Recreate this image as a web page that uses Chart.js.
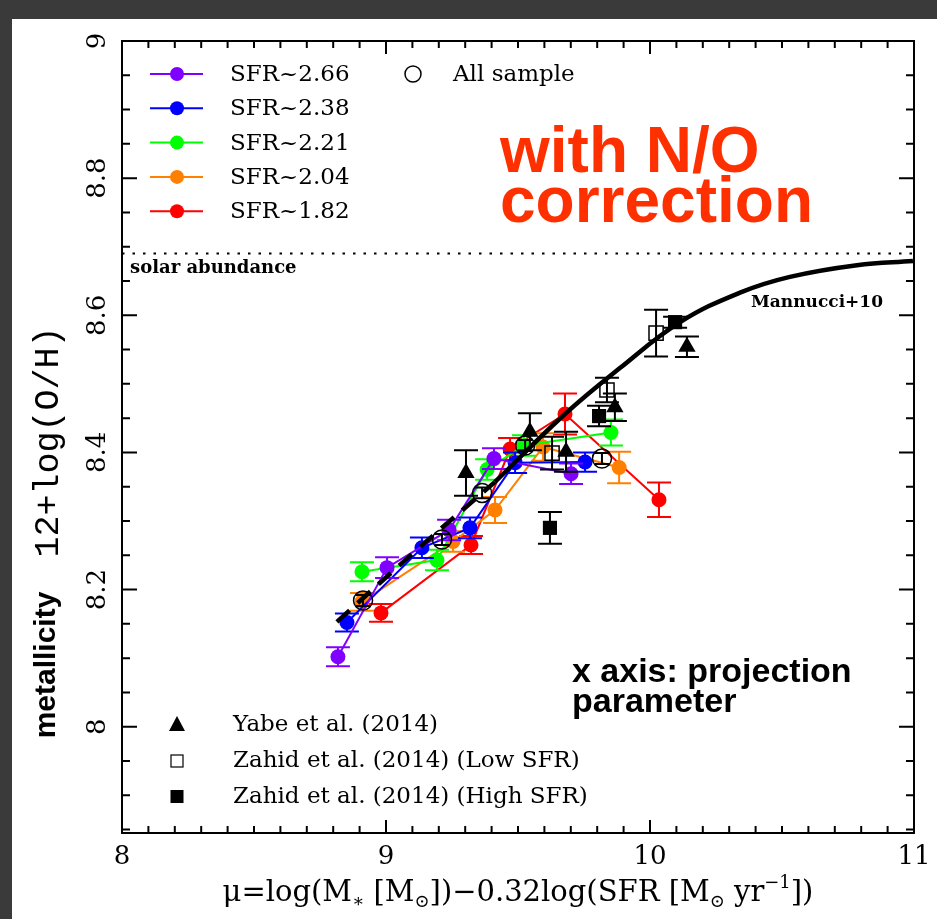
<!DOCTYPE html>
<html>
<head>
<meta charset="utf-8">
<script src="https://cdn.jsdelivr.net/npm/chart.js@4"></script>
<style>
  html, body { margin: 0; padding: 0; background: #3a3a3a; overflow: hidden; }
  #paper { position: absolute; left: 12px; top: 19px; width: 925px; height: 900px; background: #fff; }
  #metal { position: absolute; left: 0; top: 0; }
</style>
</head>
<body>
<div id="paper"></div>
<canvas id="metal" width="937" height="919"></canvas>
<script>
const xTickLabels = ['8', '9', '10', '11'];
const yTickLabels = ['8', '8.2', '8.4', '8.6', '8.8', '9'];

const sfrLabels = ['SFR~2.66', 'SFR~2.38', 'SFR~2.21', 'SFR~2.04', 'SFR~1.82'];
const sfrColors = ['#8000ff', '#0000ff', '#00ff00', '#ff8000', '#ff0000'];

const muSfr266 = [8.818, 9.004, 9.239, 9.409, 9.701];
const ohSfr266 = [8.102, 8.232, 8.287, 8.391, 8.369];
const errSfr266 = [0.014, 0.015, 0.015, 0.015, 0.015];

const muSfr238 = [8.852, 9.136, 9.318, 9.489, 9.754];
const ohSfr238 = [8.152, 8.261, 8.290, 8.385, 8.386];
const errSfr238 = [0.013, 0.015, 0.015, 0.015, 0.014];

const muSfr221 = [8.909, 9.193, 9.383, 9.523, 9.852];
const ohSfr221 = [8.226, 8.243, 8.375, 8.410, 8.429];
const errSfr221 = [0.014, 0.015, 0.015, 0.015, 0.019];

const muSfr204 = [8.909, 9.254, 9.413, 9.595, 9.883];
const ohSfr204 = [8.182, 8.270, 8.316, 8.408, 8.378];
const errSfr204 = [0.013, 0.015, 0.019, 0.020, 0.023];

const muSfr182 = [8.981, 9.322, 9.470, 9.678, 10.034];
const ohSfr182 = [8.166, 8.265, 8.405, 8.456, 8.331];
const errSfr182 = [0.013, 0.013, 0.016, 0.030, 0.025];

const muAll = [8.913, 9.212, 9.364, 9.527, 9.818];
const ohAll = [8.184, 8.273, 8.341, 8.410, 8.391];
const errAll = [0.008, 0.008, 0.008, 0.008, 0.008];

const muYabe = [9.303, 9.545, 9.682, 9.867, 10.140];
const ohYabe = [8.370, 8.430, 8.401, 8.466, 8.554];
const errYabe = [0.033, 0.027, 0.029, 0.020, 0.015];

const muZahidLow = [9.629, 9.837, 10.023];
const ohZahidLow = [8.399, 8.491, 8.574];
const errZahidLow = [0.024, 0.018, 0.034];

const muZahidHigh = [9.621, 9.807, 10.095];
const ohZahidHigh = [8.290, 8.453, 8.590];
const errZahidHigh = [0.023, 0.015, 0.008];

// Mannucci+10 curve: dashed part, then solid part
const muMannucciDash = [8.814, 9.114, 9.413];
const ohMannucciDash = [8.153, 8.257, 8.357];
const muMannucci = [9.413, 9.678, 9.886, 10.114, 10.341, 10.530, 10.784, 10.996];
const ohMannucci = [8.357, 8.456, 8.523, 8.590, 8.633, 8.656, 8.673, 8.679];

const solarOH = 8.69;

const pts = (xs, ys) => xs.map((x, i) => ({ x, y: ys[i] }));

const sfrSeries = [
  [muSfr266, ohSfr266, errSfr266],
  [muSfr238, ohSfr238, errSfr238],
  [muSfr221, ohSfr221, errSfr221],
  [muSfr204, ohSfr204, errSfr204],
  [muSfr182, ohSfr182, errSfr182],
];

const serif = '"DejaVu Serif", serif';
const sans = '"Liberation Sans", Arial, sans-serif';

const errorBars = {
  id: 'errorBars',
  beforeDatasetDraw(chart, args) {
    const ds = chart.data.datasets[args.index];
    if (!ds.errors) return;
    const { ctx, scales: { x, y } } = chart;
    ctx.save();
    ctx.strokeStyle = ds.errColor;
    ctx.lineWidth = 2;
    ds.data.forEach((p, i) => {
      const px = x.getPixelForValue(p.x);
      const top = y.getPixelForValue(p.y + ds.errors[i]);
      const bot = y.getPixelForValue(p.y - ds.errors[i]);
      ctx.beginPath();
      ctx.moveTo(px, top); ctx.lineTo(px, bot);
      ctx.moveTo(px - ds.cap, top); ctx.lineTo(px + ds.cap, top);
      ctx.moveTo(px - ds.cap, bot); ctx.lineTo(px + ds.cap, bot);
      ctx.stroke();
    });
    ctx.restore();
  },
};

const frame = {
  id: 'frame',
  beforeDatasetsDraw(chart) {
    const { ctx, chartArea: a, scales: { y } } = chart;
    const sy = y.getPixelForValue(solarOH);
    ctx.save();
    ctx.strokeStyle = '#000';
    ctx.lineWidth = 2;
    ctx.setLineDash([2.5, 8]);
    ctx.beginPath();
    ctx.moveTo(a.left, sy); ctx.lineTo(a.right, sy);
    ctx.stroke();
    ctx.restore();
  },
  afterDraw(chart) {
    const { ctx, chartArea: a, scales: { x, y } } = chart;
    ctx.save();
    ctx.strokeStyle = '#000';
    ctx.lineWidth = 2;
    ctx.strokeRect(a.left, a.top, a.right - a.left, a.bottom - a.top);

    // ticks on all four sides
    ctx.beginPath();
    for (let k = 0; k <= 30; k++) {
      const px = x.getPixelForValue(8 + k * 0.1);
      const len = k % 10 === 0 ? 13 : 7;
      ctx.moveTo(px, a.bottom); ctx.lineTo(px, a.bottom - len);
      ctx.moveTo(px, a.top); ctx.lineTo(px, a.top + len);
    }
    for (let k = 0; k <= 23; k++) {
      const v = 7.85 + k * 0.05;
      const py = y.getPixelForValue(v);
      const major = Math.abs(v * 5 - Math.round(v * 5)) < 1e-6;
      const len = major ? 15 : 8;
      ctx.moveTo(a.left, py); ctx.lineTo(a.left + len, py);
      ctx.moveTo(a.right, py); ctx.lineTo(a.right - len, py);
    }
    ctx.stroke();

    // tick labels
    ctx.fillStyle = '#000';
    ctx.font = '26px ' + serif;
    ctx.textAlign = 'center';
    ctx.textBaseline = 'top';
    xTickLabels.forEach(t => ctx.fillText(t, x.getPixelForValue(+t), a.bottom + 11));
    ctx.textBaseline = 'middle';
    yTickLabels.forEach(t => {
      ctx.save();
      ctx.translate(a.left - 24, y.getPixelForValue(+t));
      ctx.rotate(-Math.PI / 2);
      ctx.fillText(t, 0, 0);
      ctx.restore();
    });

    // x axis title with sub/superscripts
    const parts = [
      ['μ=log(M', 0], ['∗', 1], [' [M', 0], ['⊙', 1], ['])−0.32log(SFR [M', 0],
      ['⊙', 1], [' yr', 0], ['−1', -1], ['])', 0],
    ];
    const base = 29, small = 18;
    let total = 0;
    parts.forEach(([t, s]) => {
      ctx.font = (s ? small : base) + 'px ' + serif;
      total += ctx.measureText(t).width;
    });
    let cx = (a.left + a.right) / 2 - total / 2;
    ctx.textAlign = 'left';
    ctx.textBaseline = 'alphabetic';
    parts.forEach(([t, s]) => {
      ctx.font = (s ? small : base) + 'px ' + serif;
      ctx.fillText(t, cx, 901 + (s === 1 ? 6 : s === -1 ? -13 : 0));
      cx += ctx.measureText(t).width;
    });

    // y axis title
    ctx.save();
    ctx.translate(47, 665);
    ctx.rotate(-Math.PI / 2);
    ctx.textAlign = 'center';
    ctx.textBaseline = 'middle';
    ctx.font = 'bold 30px ' + sans;
    ctx.fillText('metallicity', 0, 0);
    ctx.restore();
    ctx.save();
    ctx.translate(49, 442);
    ctx.rotate(-Math.PI / 2);
    ctx.textAlign = 'center';
    ctx.textBaseline = 'middle';
    ctx.font = '35px "Liberation Mono", monospace';
    ctx.fillText('12+log(O/H)', 0, 0);
    ctx.restore();

    // SFR legend
    ctx.textAlign = 'left';
    ctx.textBaseline = 'middle';
    ctx.font = '23px ' + serif;
    sfrLabels.forEach((lab, i) => {
      const ly = 74 + i * 34.3;
      ctx.strokeStyle = sfrColors[i];
      ctx.fillStyle = sfrColors[i];
      ctx.lineWidth = 2;
      ctx.beginPath(); ctx.moveTo(150, ly); ctx.lineTo(203, ly); ctx.stroke();
      ctx.beginPath(); ctx.arc(177, ly, 7, 0, Math.PI * 2); ctx.fill();
      ctx.fillStyle = '#000';
      ctx.fillText(lab, 230, ly + 1);
    });
    ctx.strokeStyle = '#000';
    ctx.lineWidth = 1.5;
    ctx.beginPath(); ctx.arc(413, 74, 8, 0, Math.PI * 2); ctx.stroke();
    ctx.fillText('All sample', 453, 75);

    // literature legend
    const lx = 177;
    ctx.fillStyle = '#000';
    ctx.beginPath();
    ctx.moveTo(lx, 716); ctx.lineTo(lx + 8, 731); ctx.lineTo(lx - 8, 731); ctx.closePath();
    ctx.fill();
    ctx.lineWidth = 1.2;
    ctx.strokeRect(lx - 6, 755, 12, 12);
    ctx.fillRect(lx - 6.5, 790, 13, 13);
    ctx.fillText('Yabe et al. (2014)', 233, 725);
    ctx.fillText('Zahid et al. (2014) (Low SFR)', 233, 761);
    ctx.fillText('Zahid et al. (2014) (High SFR)', 233, 797);

    // annotations
    ctx.font = 'bold 18px ' + serif;
    ctx.fillText('solar abundance', 130, 268);
    ctx.textAlign = 'center';
    ctx.font = 'bold 17px ' + serif;
    ctx.fillText('Mannucci+10', 817, 303);

    ctx.textAlign = 'left';
    ctx.textBaseline = 'alphabetic';
    ctx.fillStyle = '#ff3000';
    ctx.font = 'bold 64px ' + sans;
    ctx.fillText('with N/O', 500, 172);
    ctx.fillText('correction', 500, 222);
    ctx.fillStyle = '#000';
    ctx.font = 'bold 34px ' + sans;
    ctx.fillText('x axis: projection', 572, 682);
    ctx.fillText('parameter', 572, 712);
    ctx.restore();
  },
};

const datasets = [
  {
    label: 'Mannucci+10',
    data: pts(muMannucci, ohMannucci),
    showLine: true, borderColor: '#000', borderWidth: 4.5,
    pointRadius: 0, tension: 0.4,
  },
  {
    label: 'Mannucci+10 (extrapolated)',
    data: pts(muMannucciDash, ohMannucciDash),
    showLine: true, borderColor: '#000', borderWidth: 4.5, borderDash: [17, 11],
    pointRadius: 0, tension: 0.4,
  },
  {
    label: 'All sample',
    data: pts(muAll, ohAll), errors: errAll, errColor: '#000', cap: 7,
    pointStyle: 'circle', pointRadius: 9.5, pointBorderWidth: 1.5,
    pointBorderColor: '#000', pointBackgroundColor: 'rgba(0,0,0,0)',
  },
  {
    label: 'Yabe et al. (2014)',
    data: pts(muYabe, ohYabe), errors: errYabe, errColor: '#000', cap: 12,
    pointStyle: 'triangle', pointRadius: 10, pointBorderWidth: 0,
    pointBackgroundColor: '#000',
  },
  {
    label: 'Zahid et al. (2014) (Low SFR)',
    data: pts(muZahidLow, ohZahidLow), errors: errZahidLow, errColor: '#000', cap: 12,
    pointStyle: 'rect', pointRadius: 10, pointBorderWidth: 1.5,
    pointBorderColor: '#000', pointBackgroundColor: 'rgba(255,255,255,0)',
  },
  {
    label: 'Zahid et al. (2014) (High SFR)',
    data: pts(muZahidHigh, ohZahidHigh), errors: errZahidHigh, errColor: '#000', cap: 12,
    pointStyle: 'rect', pointRadius: 10, pointBorderWidth: 0,
    pointBackgroundColor: '#000',
  },
  ...sfrSeries.map(([mu, oh, err], i) => ({
    label: sfrLabels[i],
    data: pts(mu, oh), errors: err, errColor: sfrColors[i], cap: 12,
    showLine: true, borderColor: sfrColors[i], borderWidth: 2,
    pointRadius: 7.5, pointBorderWidth: 0, pointBackgroundColor: sfrColors[i],
  })),
];

new Chart(document.getElementById('metal'), {
  type: 'scatter',
  data: { datasets },
  options: {
    responsive: false,
    animation: false,
    devicePixelRatio: 1,
    events: [],
    layout: { padding: { left: 122, right: 23, top: 41, bottom: 86 } },
    plugins: { legend: { display: false }, tooltip: { enabled: false } },
    scales: {
      x: { type: 'linear', min: 8, max: 11, display: false },
      y: { type: 'linear', min: 7.845, max: 9, display: false },
    },
  },
  plugins: [errorBars, frame],
});
</script>
</body>
</html>
